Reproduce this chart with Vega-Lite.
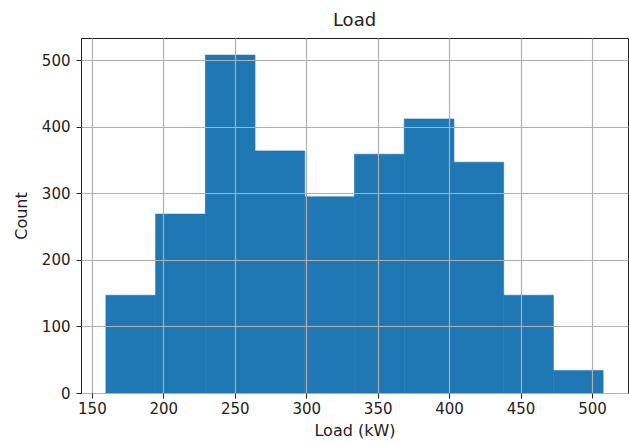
{
  "$schema": "https://vega.github.io/schema/vega-lite/v6.json",
  "width": 547,
  "height": 355,
  "autosize": {"type": "none"},
  "padding": {"left": 81, "top": 38, "right": 1, "bottom": 50},
  "background": "white",
  "title": {"text": "Load", "fontSize": 18, "font": "DejaVu Sans", "fontWeight": "normal", "color": "#222", "offset": 8},
  "config": {
    "view": {"stroke": "#222", "strokeWidth": 1},
    "font": "DejaVu Sans"
  },
  "data": {
    "values": [
      {"bin_start": 159.8, "bin_end": 194.6, "count": 147},
      {"bin_start": 194.6, "bin_end": 229.4, "count": 269},
      {"bin_start": 229.4, "bin_end": 264.2, "count": 508},
      {"bin_start": 264.2, "bin_end": 299.0, "count": 364},
      {"bin_start": 299.0, "bin_end": 333.8, "count": 295},
      {"bin_start": 333.8, "bin_end": 368.6, "count": 359},
      {"bin_start": 368.6, "bin_end": 403.4, "count": 412},
      {"bin_start": 403.4, "bin_end": 438.2, "count": 347},
      {"bin_start": 438.2, "bin_end": 473.0, "count": 147},
      {"bin_start": 473.0, "bin_end": 507.8, "count": 34}
    ]
  },
  "mark": {"type": "bar", "color": "#1f77b4", "stroke": "#1f77b4", "strokeWidth": 0.6},
  "encoding": {
    "x": {
      "field": "bin_start",
      "type": "quantitative",
      "scale": {"domain": [142.4, 525.2], "nice": false, "zero": false},
      "axis": {
        "title": "Load (kW)",
        "values": [150, 200, 250, 300, 350, 400, 450, 500],
        "zindex": 1,
        "grid": true,
        "gridColor": "#b0b0b0",
        "gridWidth": 1.2,
        "gridOpacity": 1,
        "domain": false,
        "tickColor": "#222",
        "tickSize": 5,
        "tickWidth": 1,
        "labelFontSize": 15,
        "labelColor": "#222",
        "labelPadding": 3,
        "labelFont": "DejaVu Sans",
        "titleFontSize": 16,
        "titleFontWeight": "normal",
        "titleColor": "#222",
        "titleFont": "DejaVu Sans",
        "titlePadding": 6
      }
    },
    "x2": {"field": "bin_end"},
    "y": {
      "field": "count",
      "type": "quantitative",
      "scale": {"domain": [0, 533.7], "nice": false},
      "axis": {
        "title": "Count",
        "values": [0, 100, 200, 300, 400, 500],
        "zindex": 1,
        "grid": true,
        "gridColor": "#b0b0b0",
        "gridWidth": 1.2,
        "gridOpacity": 1,
        "domain": false,
        "tickColor": "#222",
        "tickSize": 5,
        "tickWidth": 1,
        "labelFontSize": 15,
        "labelColor": "#222",
        "labelPadding": 6,
        "labelFont": "DejaVu Sans",
        "titleFontSize": 16,
        "titleFontWeight": "normal",
        "titleColor": "#222",
        "titleFont": "DejaVu Sans",
        "titlePadding": 12
      }
    },
    "y2": {"datum": 0}
  }
}
